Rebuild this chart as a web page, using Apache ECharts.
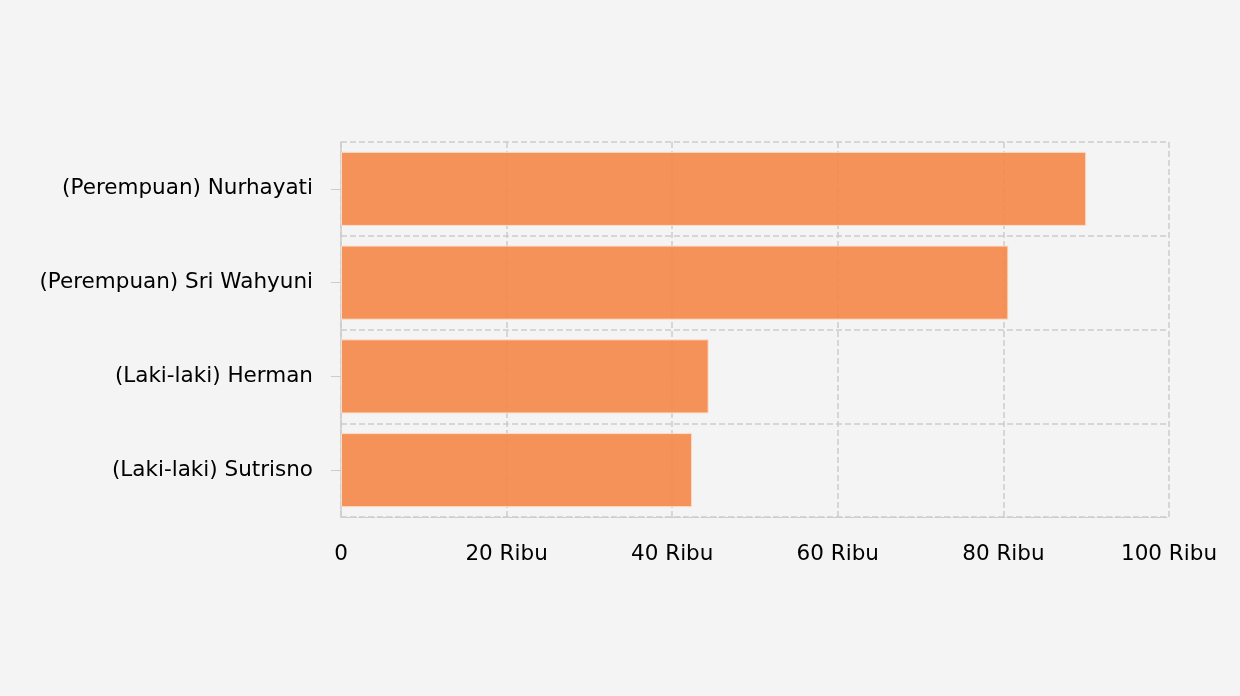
<!DOCTYPE html>
<html><head><meta charset="utf-8">
<script src="https://cdn.jsdelivr.net/npm/echarts@6/dist/echarts.min.js"></script>
<style>html,body{margin:0;padding:0;background:#f4f4f4}#c{width:1240px;height:696px}</style>
</head><body><div id="c"></div>
<script>
const categories = ['(Laki-laki) Sutrisno', '(Laki-laki) Herman', '(Perempuan) Sri Wahyuni', '(Perempuan) Nurhayati'];
const values = [42400, 44400, 80600, 90000];
const xTicks = [0, 20000, 40000, 60000, 80000, 100000];

const chart = echarts.init(document.getElementById('c'));
chart.setOption({
  backgroundColor: '#f4f4f4',
  textStyle: { fontFamily: 'DejaVu Sans' },
  grid: { left: 341, right: 71, top: 142, bottom: 179, containLabel: false },
  xAxis: {
    type: 'value', min: xTicks[0], max: xTicks[xTicks.length - 1], interval: 20000,
    axisLine: { show: true, lineStyle: { color: '#cccccc', type: 'dashed' } },
    axisTick: { show: false },
    splitLine: { show: true, lineStyle: { color: '#cccccc', type: 'dashed', width: 1.5 } },
    axisLabel: {
      color: '#000', fontSize: 21.5, margin: 26, fontFamily: 'DejaVu Sans',
      formatter: v => v === 0 ? '0' : (v / 1000) + ' Ribu'
    }
  },
  yAxis: {
    type: 'category', data: categories,
    axisLine: { show: true, lineStyle: { color: '#cccccc', width: 1.5 } },
    axisTick: { show: true, alignWithLabel: true, length: 10, lineStyle: { color: '#cccccc' } },
    splitLine: { show: true, lineStyle: { color: '#cccccc', type: 'dashed', width: 1.5 } },
    axisLabel: { color: '#000', fontSize: 21.5, margin: 28, fontFamily: 'DejaVu Sans' }
  },
  series: [{
    type: 'bar', data: values, barWidth: '79%',
    itemStyle: { color: '#f38a4e', opacity: 0.93, borderColor: '#fde0cc', borderWidth: 1 }
  }]
});
</script></body></html>
